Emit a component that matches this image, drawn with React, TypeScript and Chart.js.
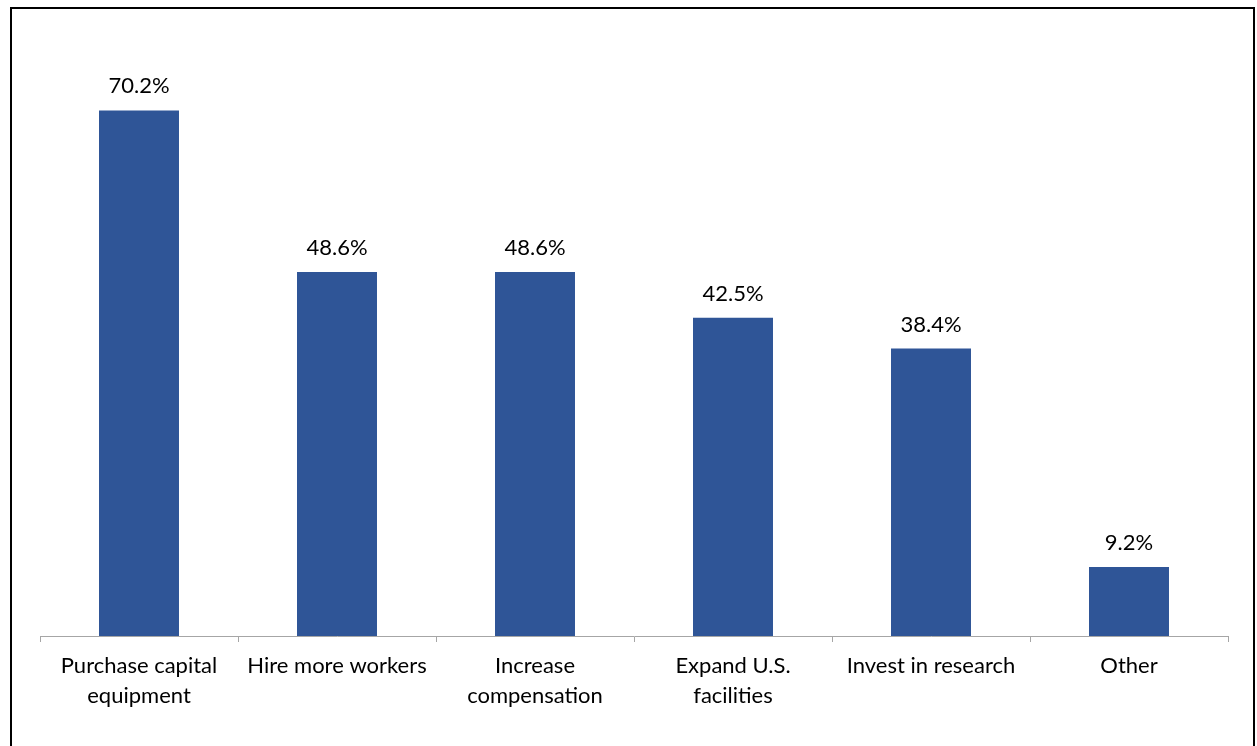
import React, { useEffect, useRef } from "react";
import { Chart, registerables } from "chart.js";

Chart.register(...registerables);

const categories: (string | string[])[] = [
  ["Purchase capital", "equipment"],
  "Hire more workers",
  ["Increase", "compensation"],
  ["Expand U.S.", "facilities"],
  "Invest in research",
  "Other",
];
const values: number[] = [70.2, 48.6, 48.6, 42.5, 38.4, 9.2];
const valueLabels: string[] = ["70.2%", "48.6%", "48.6%", "42.5%", "38.4%", "9.2%"];

const FONT = "Lato, 'Open Sans', sans-serif";

const labelPlugin = {
  id: "barLabels",
  afterDatasetsDraw(chart: any) {
    const ctx = chart.ctx;
    const meta = chart.getDatasetMeta(0);
    ctx.save();
    ctx.fillStyle = "#000";
    ctx.font = `22px ${FONT}`;
    ctx.textAlign = "center";
    ctx.textBaseline = "middle";
    meta.data.forEach((bar: any, i: number) => {
      ctx.fillText(valueLabels[i], bar.x, bar.y - 24);
    });
    ctx.restore();
  },
};

export default function App() {
  const ref = useRef<HTMLCanvasElement>(null);
  useEffect(() => {
    if (!ref.current) return;
    const chart = new Chart(ref.current, {
      type: "bar",
      data: {
        labels: categories,
        datasets: [
          {
            data: values,
            backgroundColor: "#2F5597",
            barPercentage: 0.404,
            categoryPercentage: 1,
          },
        ],
      },
      options: {
        responsive: false,
        animation: false,
        layout: { padding: { left: 40, right: 29, top: 37, bottom: 0 } },
        plugins: { legend: { display: false }, tooltip: { enabled: false } },
        scales: {
          y: { display: false, min: 0, max: 80 },
          x: {
            afterFit: (scale: any) => {
              scale.height = 110;
            },
            border: { display: true, color: "#a6a6a6", width: 1 },
            grid: {
              offset: true,
              drawOnChartArea: false,
              drawTicks: true,
              tickLength: 6,
              color: "#a6a6a6",
            },
            ticks: {
              color: "#000",
              padding: 9,
              maxRotation: 0,
              autoSkip: false,
              font: { family: FONT, size: 22, lineHeight: 1.36 },
            },
          },
        },
      },
      plugins: [labelPlugin],
    });
    return () => chart.destroy();
  }, []);
  return (
    <div style={{ position: "fixed", left: 0, top: 0, width: 1257, height: 746, background: "#fff", overflow: "hidden" }}>
      <div
        style={{
          position: "absolute",
          left: 10,
          top: 7,
          width: 1245,
          height: 800,
          border: "2px solid #000",
          boxSizing: "border-box",
        }}
      />
      <canvas ref={ref} width={1257} height={746} style={{ position: "absolute", left: 0, top: 0 }} />
    </div>
  );
}
